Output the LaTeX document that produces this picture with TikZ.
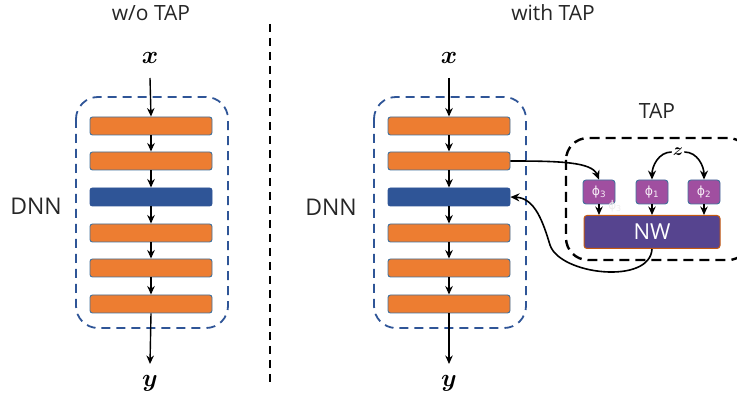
\documentclass[tikz,border=0pt]{standalone}
\usepackage{amsmath,amsbsy}
\usepackage{fontspec}
\setmainfont{Open Sans}
\newfontfamily\dejavu{DejaVu Sans}
\usetikzlibrary{arrows.meta}
\definecolor{barorange}{HTML}{ED7D31}
\definecolor{barborder}{HTML}{41719C}
\definecolor{barblue}{HTML}{2F5597}
\definecolor{phifill}{HTML}{A04FA0}
\definecolor{nwfill}{HTML}{56448F}
\definecolor{nwborder}{HTML}{C55A11}
\tikzset{
  bar/.style={draw=barborder, line width=0.9pt, fill=barorange, rounded corners=2.5pt, minimum width=122pt, minimum height=18pt, inner sep=0pt},
  bluebar/.style={bar, fill=barblue, draw=barblue},
  dnnbox/.style={draw=barblue, line width=1.8pt, dash pattern=on 9pt off 6pt, rounded corners=22pt},
  tapbox/.style={draw=black, line width=2.4pt, dash pattern=on 10pt off 6pt, rounded corners=22pt},
  phibox/.style={draw=barborder, line width=0.9pt, fill=phifill, rounded corners=3pt, minimum width=32pt, minimum height=24pt, inner sep=0pt, text=white!90!phifill, font=\dejavu\fontsize{12.5}{14}\selectfont},
  nwbox/.style={draw=nwborder, line width=1pt, fill=nwfill, rounded corners=3pt, minimum width=136pt, minimum height=33pt, inner sep=0pt, text=white, font=\fontsize{22}{24}\selectfont},
  lbl/.style={font=\fontsize{21}{24}\selectfont, text=black!85},
  dnnlbl/.style={font=\fontsize{23}{26}\selectfont, text=black!85},
  var/.style={font=\fontsize{24}{26}\selectfont, inner sep=1pt},
  arr/.style={-{Stealth[length=8.5pt,width=7.5pt]}, line width=1.4pt},
  carr/.style={-{Stealth[length=9pt,width=8pt]}, line width=1.6pt},
}
\begin{document}
\begin{tikzpicture}[x=1pt,y=-1pt]
\useasboundingbox (0,0) rectangle (737,398);
% divider
\draw[line width=1.8pt, dash pattern=on 8pt off 6pt] (270,24) -- (270,385);
% ---------- left ----------
\node[lbl] (t1) at (151,13) {w/o TAP};
\node[var] (x1) at (150,58) {$\boldsymbol{x}$};
\node[var] (y1) at (150,383) {$\boldsymbol{y}$};
\draw[dnnbox] (76,97) rectangle (228,328);
\node[dnnlbl] (dnn1) at (36,206) {DNN};
\node[bar] (a1) at (151,126) {};
\node[bar] (a2) at (151,161) {};
\node[bluebar] (a3) at (151,197) {};
\node[bar] (a4) at (151,233) {};
\node[bar] (a5) at (151,268) {};
\node[bar] (a6) at (151,304) {};
\coordinate (xs1) at (150,78);
\coordinate (ye1) at (150,364);
\draw[arr] (xs1) -- (a1.north);
\draw[arr] (a1.south) -- (a2.north);
\draw[arr] (a2.south) -- (a3.north);
\draw[arr] (a3.south) -- (a4.north);
\draw[arr] (a4.south) -- (a5.north);
\draw[arr] (a5.south) -- (a6.north);
\draw[arr] (a6.south) -- (ye1);
% ---------- right ----------
\node[lbl] (t2) at (553,13) {with TAP};
\node[var] (x2) at (449,58) {$\boldsymbol{x}$};
\node[var] (y2) at (449,383) {$\boldsymbol{y}$};
\draw[dnnbox] (374,97) rectangle (526,328);
\node[dnnlbl] (dnn2) at (331,207) {DNN};
\node[bar] (b1) at (449,126) {};
\node[bar] (b2) at (449,161) {};
\node[bluebar] (b3) at (449,197) {};
\node[bar] (b4) at (449,233) {};
\node[bar] (b5) at (449,268) {};
\node[bar] (b6) at (449,304) {};
\coordinate (xs2) at (449,78);
\coordinate (ye2) at (449,364);
\draw[arr] (xs2) -- (b1.north);
\draw[arr] (b1.south) -- (b2.north);
\draw[arr] (b2.south) -- (b3.north);
\draw[arr] (b3.south) -- (b4.north);
\draw[arr] (b4.south) -- (b5.north);
\draw[arr] (b5.south) -- (b6.north);
\draw[arr] (b6.south) -- (ye2);
% ---------- TAP ----------
\node[lbl] (tap) at (657,111) {TAP};
\draw[tapbox] (566,138) rectangle (750,260);
\node[var, font=\fontsize{19}{22}\selectfont] (z) at (678,152) {$\boldsymbol{z}$};
\node[phibox] (p3) at (599,192) {ϕ\textsubscript{3}};
\node[phibox] (p1) at (652,192) {ϕ\textsubscript{1}};
\node[phibox] (p2) at (704,192) {ϕ\textsubscript{2}};
\node[font=\dejavu\fontsize{12}{14}\selectfont, text=black!7] (ghost) at (615,206) {ϕ\textsubscript{3}};
\node[nwbox] (nw) at (652,232) {NW};
\draw[arr] (p3.south) -- (nw.north -| p3.south);
\draw[arr] (p1.south) -- (nw.north -| p1.south);
\draw[arr] (p2.south) -- (nw.north -| p2.south);
\draw[carr] (z.west) to[out=180,in=90] (p1.north);
\draw[carr] (z.east) to[out=0,in=90] (p2.north);
\draw[carr] (b2.east) .. controls (560,161) and (592,162) .. (p3.north);
\draw[carr] (nw.south) .. controls (650,285) and (560,275) .. (550,245) .. controls (543,222) and (535,198) .. (b3.east);
\end{tikzpicture}
\end{document}
